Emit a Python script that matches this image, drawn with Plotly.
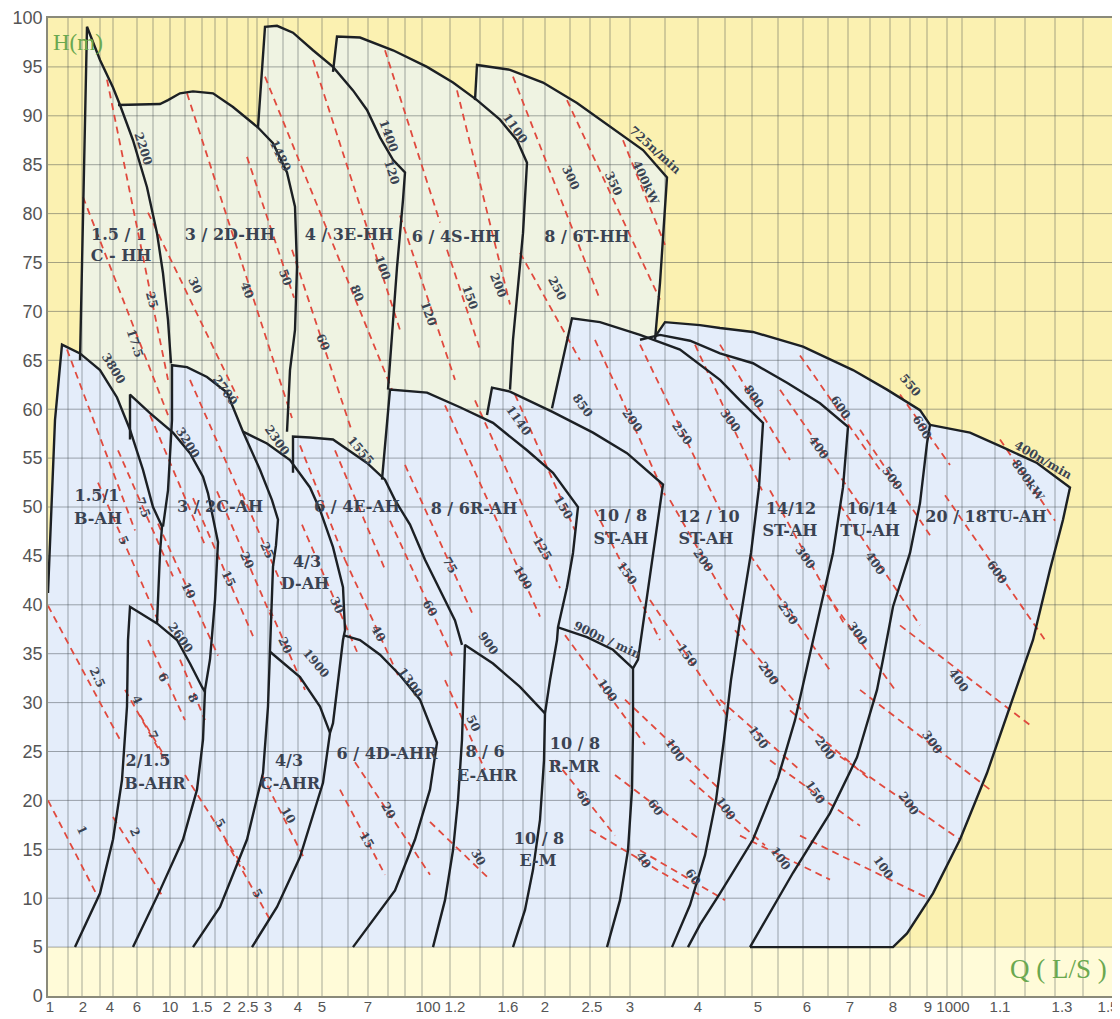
import plotly.graph_objects as go

# ---------------- axis definition (Q axis is a hand-drawn, non-uniform scale) -------------
q_tick_pos = [2, 35, 62, 89, 122, 154, 179, 200, 220, 250, 274, 320, 380, 407, 460, 497, 544, 582,
              650, 710, 759, 802, 845, 880, 905, 952, 1014, 1060]
q_tick_text = ["1", "2", "4", "6", "10", "1.5", "2", "2.5", "3", "4", "5", "7", "100", "1.2", "1.6", "2",
               "2.5", "3", "4", "5", "6", "7", "8", "9", "1000", "1.1", "1.3", "1.5"]
q_grid_pos = [20, 34, 52, 65, 89, 105, 122, 137, 154, 167, 179, 200, 209, 220, 235, 250, 274, 300, 320,
              340, 357, 374, 402, 432, 455, 475, 497, 522, 542, 562, 582, 617, 650, 677, 704, 730, 755,
              780, 800, 822, 842, 862, 879, 899, 914, 947, 977, 1007, 1035]
h_ticks = list(range(0, 101, 5))

# ---------------- pump region outlines (Q-axis position, head H in m) ----------------
hh_c_x = [32, 39, 52, 65, 72, 85, 99, 109, 115, 120, 123]
hh_c_h = [65.0, 99.1, 95.7, 92.9, 91.1, 87.5, 82.7, 78.0, 73.9, 69.1, 64.7]
hh_d_x = [70, 112, 120, 132, 145, 165, 185, 210, 225, 239, 247, 249, 247, 242, 239]
hh_d_h = [91.1, 91.2, 91.6, 92.3, 92.5, 92.3, 90.9, 88.8, 87.2, 84.2, 80.7, 74.5, 68.1, 64.0, 57.7]
hh_e_x = [210, 217, 229, 245, 265, 285, 305, 319, 332, 345, 357, 355, 349, 344, 340]
hh_e_h = [88.8, 99.1, 99.2, 98.5, 96.7, 95.0, 92.6, 90.6, 87.8, 85.5, 84.2, 81.4, 74.5, 67.8, 62.0]
hh_s_x = [285, 289, 312, 345, 379, 405, 429, 452, 469, 479, 475, 469, 465, 462]
hh_s_h = [94.5, 98.1, 98.0, 96.7, 95.0, 93.4, 91.6, 89.6, 87.5, 85.2, 78.0, 71.2, 67.1, 62.0]
hh_t_x = [427, 429, 462, 495, 529, 562, 595, 619, 615, 612, 607]
hh_t_h = [91.6, 95.2, 94.7, 93.4, 91.3, 88.9, 86.5, 83.7, 78.0, 72.9, 67.1]

ah_b_x = [0, 7, 14, 32, 52, 69, 82, 95, 105, 114, 112, 109]
ah_b_h = [41.2, 58.9, 66.6, 65.7, 64.0, 61.2, 57.9, 53.8, 50.0, 48.0, 45.3, 38.1]
ah_b2_x = [82, 82, 102, 125, 142, 155, 160, 165, 170, 167, 162, 157, 155, 149, 135, 112, 85]
ah_b2_h = [56.9, 61.5, 59.6, 57.6, 55.5, 53.1, 51.4, 48.7, 46.4, 40.5, 34.4, 31.3, 26.2, 21.1, 16.0, 10.8, 5.0]
ah_c_x = [115, 120, 124, 124, 139, 159, 179, 195, 212, 224, 230, 228, 225, 222, 220, 215, 199, 172, 145]
ah_c_h = [48.0, 51.7, 58.9, 64.5, 64.3, 63.3, 61.7, 57.7, 53.8, 50.7, 48.7, 46.1, 43.9, 35.1, 29.6, 22.8, 16.0, 9.1, 5.0]
ah_d_x = [195, 219, 242, 262, 272, 285, 295, 297, 295, 285, 282, 275, 252, 229, 204]
ah_d_h = [57.7, 56.5, 54.8, 52.0, 49.7, 45.9, 41.8, 37.4, 36.4, 27.9, 26.9, 21.8, 14.2, 9.1, 5.0]
ah_e_x = [245, 245, 262, 285, 319, 337, 347, 362, 377, 392, 407, 414]
ah_e_h = [53.5, 57.2, 57.1, 56.9, 54.5, 52.8, 50.7, 48.2, 44.6, 41.5, 38.4, 35.9]
ah_r_x = [334, 342, 379, 412, 445, 479, 505, 530, 525, 519, 510, 509, 502, 497, 496, 492, 485, 477, 465]
ah_r_h = [52.8, 62.0, 61.7, 60.2, 58.6, 55.8, 53.5, 50.0, 45.3, 41.8, 37.7, 36.4, 32.3, 28.9, 24.1, 18.0, 12.9, 8.8, 5.0]
st10_x = [439, 444, 462, 479, 505, 545, 579, 615, 605, 595, 590, 585, 585, 584, 580, 572, 559]
st10_h = [59.4, 62.2, 61.8, 61.0, 59.7, 57.6, 55.5, 52.3, 45.3, 38.4, 34.4, 33.5, 27.2, 21.1, 14.9, 9.8, 5.0]
st12_x = [504, 524, 552, 592, 632, 672, 692, 715, 711, 703, 692, 683, 676, 668, 657, 642, 624]
st12_h = [60.1, 69.3, 68.9, 67.6, 66.1, 63.0, 60.9, 58.6, 52.0, 45.3, 38.4, 32.3, 26.2, 20.0, 14.4, 9.3, 5.0]
st14_x = [592, 612, 642, 672, 705, 739, 772, 800, 795, 785, 772, 758, 747, 730, 705, 672, 652, 640]
st14_h = [67.1, 67.6, 67.0, 65.7, 64.7, 62.7, 60.6, 58.2, 52.0, 45.3, 39.5, 33.3, 28.2, 22.3, 16.0, 10.5, 7.3, 5.0]
tu16_x = [607, 617, 652, 672, 705, 755, 805, 839, 872, 882, 879, 872, 862, 845, 835, 829, 809, 782, 745, 702]
tu16_h = [67.4, 68.9, 68.6, 68.3, 67.9, 66.4, 64.0, 62.0, 59.9, 58.4, 56.5, 50.4, 45.3, 39.8, 34.4, 31.3, 24.4, 18.7, 12.6, 5.0]
tu20_x = [882, 922, 955, 989, 1022, 1015, 1002, 985, 962, 939, 912, 885, 859, 845, 702]
tu20_h = [58.4, 57.6, 56.1, 54.5, 52.0, 48.7, 43.6, 36.4, 29.6, 22.8, 16.0, 10.5, 6.4, 5.0, 5.0]

ahr_b_x = [27, 52, 65, 74, 79, 80, 82, 109, 129, 142, 154, 157]
ahr_b_h = [5.0, 10.5, 16.0, 22.1, 29.6, 36.4, 39.8, 38.1, 36.4, 34.0, 31.6, 31.1]
ahr_c_x = [222, 252, 272, 282]
ahr_c_h = [35.2, 32.6, 29.6, 26.9]
ahr_d_x = [295, 312, 332, 352, 372, 389, 382, 367, 347, 322, 305]
ahr_d_h = [36.9, 36.4, 34.9, 32.8, 30.3, 25.9, 21.1, 16.0, 10.8, 7.3, 5.0]
ahr_e_x = [385, 397, 405, 410, 414, 417, 445, 472, 497]
ahr_e_h = [5.0, 9.8, 14.9, 20.0, 26.2, 35.9, 34.0, 31.6, 28.9]
mr_x = [510, 539, 565, 585]
mr_h = [37.7, 36.7, 35.4, 33.5]

# upper envelope of the HH family and of the AH family (for the tinted areas)
hh_top_x = [32, 39, 52, 65, 72, 112, 120, 132, 145, 165, 185, 210, 217, 229, 245, 265, 285, 289, 312,
            345, 379, 405, 427, 429, 462, 495, 529, 562, 595, 619, 615, 612, 607]
hh_top_h = [65.7, 99.1, 95.7, 92.9, 91.2, 91.2, 91.6, 92.3, 92.5, 92.3, 90.9, 88.8, 99.1, 99.2, 98.5,
            96.7, 95.0, 98.1, 98.0, 96.7, 95.0, 93.4, 91.6, 95.2, 94.7, 93.4, 91.3, 88.9, 86.5, 83.7, 78.0,
            72.9, 67.1]
ah_env_x = [0, 0, 7, 14, 32, 52, 69, 82, 82, 102, 120, 124, 139, 159, 179, 195, 219, 242, 245, 262,
            285, 319, 334, 342, 379, 412, 439, 444, 462, 479, 504, 524, 552, 592, 607, 617, 652, 672, 705, 755,
            805, 839, 872, 882, 922, 955, 989, 1022, 1015, 1002, 985, 962, 939, 912, 885, 859, 845]
ah_env_h = [5, 41.2, 58.9, 66.6, 65.7, 64.0, 61.2, 57.9, 61.5, 59.6, 58.0, 64.5, 64.3, 63.3, 61.7, 57.7,
            56.5, 54.8, 57.2, 57.1, 56.9, 54.5, 53.1, 62.2, 61.7, 60.2, 58.9, 62.2, 61.8, 61.0, 59.8, 69.3,
            68.9, 67.6, 67.4, 68.9, 68.6, 68.3, 67.9, 66.4, 64.0, 62.0, 59.9, 58.4, 57.6, 56.1, 54.5, 52.0,
            48.7, 43.6, 36.4, 29.6, 22.8, 16.0, 10.5, 6.4, 5.0]

# ---------------- power (kW) iso-lines: start / end points ----------------
pw_x0 = [35, 59, 100, 139, 199, 217, 244, 265, 337, 352, 399, 409, 465, 519, 575, 472,
         19, 50, 70, 102, 110, 142, 145, 169, 194, 254, 252, 287,
         0, 65, 0, 77, 92, 100, 132, 137, 177, 214, 292, 307, 382, 397, 222,
         297, 342, 357, 397, 427, 467, 547, 592, 647, 547, 602, 517, 577, 507, 567, 542, 592, 642,
         622, 722, 792, 897, 702, 772, 687, 672, 742, 722, 692, 852, 812, 782, 752, 672, 752, 732, 812, 852, 952]
pw_h0 = [81.7, 93.7, 80.1, 92.3, 85.8, 94.0, 76.3, 95.7, 96.7, 79.8, 76.3, 92.6, 94.0, 91.6, 87.5, 76.0,
         66.1, 52.5, 55.8, 59.4, 48.3, 63.0, 50.9, 51.6, 51.4, 48.2, 56.3, 55.8,
         20.0, 18.3, 39.9, 31.3, 28.7, 36.4, 34.4, 22.6, 16.0, 22.6, 21.1, 23.9, 17.8, 32.3, 39.5,
         44.6, 48.6, 54.3, 60.4, 60.9, 61.5, 67.1, 66.6, 66.6, 49.7, 40.5, 36.9, 30.3, 24.1, 22.6, 17.0, 14.9, 22.1,
         50.7, 51.7, 50.2, 51.2, 45.1, 42.0, 37.4, 30.3, 29.2, 24.1, 16.4, 37.9, 31.3, 25.2, 16.4, 66.6, 65.5, 62.0, 57.9, 61.5, 56.9]
pw_x1 = [120, 120, 190, 244, 246, 344, 304, 352, 392, 407, 432, 462, 552, 612, 617, 532,
         87, 110, 125, 157, 170, 197, 205, 224, 234, 309, 297, 337,
         49, 114, 72, 117, 122, 137, 157, 197, 222, 257, 337, 382, 442, 437, 257,
         350, 404, 424, 492, 512, 527, 617, 672, 714, 612, 682, 597, 672, 567, 652, 652, 677, 717,
         697, 797, 872, 997, 782, 847, 762, 752, 822, 812, 782, 982, 942, 912, 880, 742, 832, 812, 882, 902, 1007]
pw_h1 = [59.4, 63.0, 61.1, 59.1, 71.4, 62.0, 57.7, 68.1, 79.1, 63.0, 66.1, 70.7, 71.2, 71.2, 76.8, 65.0,
         47.6, 38.4, 42.9, 46.1, 34.8, 50.2, 36.8, 38.6, 42.0, 35.2, 44.6, 43.6,
         10.3, 10.3, 26.2, 24.1, 23.6, 28.2, 28.2, 12.9, 7.8, 13.9, 12.4, 12.4, 11.9, 23.1, 31.3,
         32.8, 34.8, 39.2, 38.8, 41.7, 47.6, 51.2, 49.7, 51.7, 36.4, 28.2, 25.7, 21.1, 16.4, 16.0, 10.3, 9.8, 15.4,
         37.4, 37.9, 37.9, 36.4, 33.3, 31.3, 28.2, 23.1, 22.1, 17.4, 11.9, 27.7, 21.1, 16.0, 10.0, 54.8, 53.8, 50.2, 47.1, 54.3, 48.6]

# ---------------- rotated labels (speed r/min and power kW) ----------------
lab_text = ["2200", "17.5", "25", "30", "40", "50", "1480", "60", "80", "1400", "120", "100", "120", "150",
            "200", "1100", "300", "350", "400kW", "725n/min", "250",
            "3800", "3200", "2700", "2300", "1555", "5", "7.5", "10", "15", "20", "25", "30", "2600", "20",
            "1900", "1300", "1140", "150", "125", "100", "75", "60", "40", "900", "850", "200", "250", "300",
            "150", "200", "900n / min", "150", "800", "600", "550", "600", "400", "500", "400n/min", "800kW",
            "300", "400", "600", "250", "300", "200", "150", "200", "150", "100", "100", "400", "300", "200",
            "100", "1", "2", "2.5", "4", "6", "7", "8", "5", "5", "10", "15", "20", "30", "50", "100", "100",
            "60", "60", "40", "60"]
lab_x = [95, 87, 104, 147, 199, 237, 232, 275, 309, 340, 344, 334, 380, 422,
         450, 467, 522, 565, 597, 607, 509,
         65, 139, 177, 229, 312, 75, 95, 140, 180, 199, 219, 289, 132, 237,
         268, 362, 470, 515, 494, 474, 402, 382, 330, 440, 534, 584, 634, 682,
         579, 655, 559, 639, 705, 792, 862, 874, 770, 844, 995, 980,
         757, 827, 949, 740, 809, 720, 710, 777, 767, 677, 732, 910, 884, 860,
         835, 34, 87, 49, 89, 115, 105, 145, 172, 209, 240, 319, 340, 430, 425, 559, 627,
         535, 607, 595, 645]
lab_h = [86.7, 66.8, 71.2, 72.7, 72.2, 73.5, 86.0, 66.9, 71.9, 88.0, 84.3, 74.5, 69.8, 71.5,
         72.7, 88.8, 83.7, 83.1, 83.2, 86.5, 72.4,
         64.2, 56.6, 62.0, 56.9, 55.8, 46.6, 50.0, 41.5, 42.7, 44.6, 45.6, 40.0, 36.7, 35.9,
         34.1, 32.1, 58.9, 50.0, 45.8, 42.8, 44.1, 39.7, 37.1, 36.1, 60.4, 58.9, 57.6, 58.9,
         43.3, 44.6, 36.4, 34.9, 61.3, 60.2, 62.5, 58.2, 56.1, 53.0, 54.8, 52.8,
         44.9, 44.3, 43.4, 39.2, 37.1, 33.0, 26.5, 25.4, 20.9, 19.2, 14.1, 32.3, 26.0, 19.7,
         13.2, 17.0, 16.8, 32.6, 30.3, 32.6, 26.7, 30.5, 17.7, 10.5, 18.5, 16.0, 19.0, 14.2, 27.9, 31.3, 25.2,
         20.2, 19.3, 13.9, 12.2]
lab_angle = [72, 72, 75, 65, 68, 70, 65, 68, 68, 70, 72, 70, 70, 70,
             68, 55, 65, 65, 65, 42, 62,
             58, 58, 55, 55, 50, 65, 70, 65, 65, 65, 65, 65, 55, 65,
             50, 55, 55, 60, 60, 60, 60, 60, 60, 55, 55, 55, 55, 55,
             55, 55, 25, 55, 55, 55, 50, 60, 55, 55, 30, 55,
             55, 55, 55, 55, 55, 55, 55, 55, 55, 55, 55, 55, 55, 55,
             55, 65, 65, 65, 65, 65, 65, 65, 60, 60, 60, 60, 60, 60, 65, 55, 55,
             60, 55, 55, 55]

# ---------------- pump model names ----------------
name_text = ["1.5 / 1", "C - HH", "3 / 2D-HH", "4 / 3E-HH", "6 / 4S-HH", "8 / 6T-HH",
             "1.5/1", "B-AH", "3 / 2C-AH", "4/3", "D-AH", "6 / 4E-AH", "8 / 6R-AH",
             "10 / 8", "ST-AH", "12 / 10", "ST-AH", "14/12", "ST-AH", "16/14", "TU-AH", "20 / 18TU-AH",
             "2/1.5", "B-AHR", "4/3", "C-AHR", "6 / 4D-AHR", "8 / 6", "E-AHR", "10 / 8", "R-MR",
             "10 / 8", "E-M"]
name_x = [71, 73, 182, 301, 408, 539,
          49, 50, 172, 259, 257, 309, 426,
          574, 573, 661, 658, 743, 742, 824, 822, 938,
          100, 107, 241, 242, 339, 437, 439, 527, 526,
          491, 490]
name_h = [77.7, 75.6, 77.7, 77.7, 77.5, 77.5,
          51.0, 48.7, 49.9, 44.3, 42.0, 49.9, 49.7,
          49.0, 46.6, 48.9, 46.6, 49.7, 47.4, 49.7, 47.4, 48.9,
          23.9, 21.6, 23.9, 21.6, 24.6, 24.8, 22.4, 25.7, 23.3,
          16.0, 13.7]

# ---------------- figure ----------------
fig = go.Figure()

BG = "rgb(251,241,177)"
fig.add_trace(go.Scatter(x=[0, 1065, 1065, 0], y=[0, 0, 5, 5], fill="toself",
                         fillcolor="rgb(255,251,216)", line=dict(width=0),
                         mode="lines", hoverinfo="skip", showlegend=False))
# HH tint: bounded below by the top of the AH family (segment x = 32 ... 607)
hh_poly_x = hh_top_x + ah_env_x[4:35][::-1]
hh_poly_h = hh_top_h + ah_env_h[4:35][::-1]
fig.add_trace(go.Scatter(x=hh_poly_x, y=hh_poly_h, fill="toself", fillcolor="rgb(239,243,226)",
                         line=dict(width=0), mode="lines", hoverinfo="skip", showlegend=False))
fig.add_trace(go.Scatter(x=ah_env_x, y=ah_env_h, fill="toself", fillcolor="rgb(228,237,250)",
                         line=dict(width=0), mode="lines", hoverinfo="skip", showlegend=False))

# grid drawn above the tints (semi-transparent so it takes the colour of each area)
gx, gy = [], []
for g in q_grid_pos:
    gx += [g, g, None]
    gy += [0, 100, None]
for h in h_ticks[1:-1]:
    gx += [0, 1065, None]
    gy += [h, h, None]
fig.add_trace(go.Scatter(x=gx, y=gy, mode="lines", hoverinfo="skip", showlegend=False,
                         line=dict(color="rgba(60,66,72,0.45)", width=1)))

# dashed power lines
dx, dy = [], []
for a, b, c, d in zip(pw_x0, pw_h0, pw_x1, pw_h1):
    dx += [a, c, None]
    dy += [b, d, None]
fig.add_trace(go.Scatter(x=dx, y=dy, mode="lines", hoverinfo="skip", showlegend=False,
                         line=dict(color="rgb(224,74,62)", width=1.8, dash="7px,5px")))

outlines = [(hh_c_x, hh_c_h), (hh_d_x, hh_d_h), (hh_e_x, hh_e_h), (hh_s_x, hh_s_h), (hh_t_x, hh_t_h),
            (ah_b_x, ah_b_h), (ah_b2_x, ah_b2_h), (ah_c_x, ah_c_h), (ah_d_x, ah_d_h), (ah_e_x, ah_e_h),
            (ah_r_x, ah_r_h), (st10_x, st10_h), (st12_x, st12_h), (st14_x, st14_h), (tu16_x, tu16_h),
            (tu20_x, tu20_h), (ahr_b_x, ahr_b_h), (ahr_c_x, ahr_c_h), (ahr_d_x, ahr_d_h),
            (ahr_e_x, ahr_e_h), (mr_x, mr_h)]
for xs, hs in outlines:
    fig.add_trace(go.Scatter(x=xs, y=hs, mode="lines", hoverinfo="skip", showlegend=False,
                             line=dict(color="#1c2024", width=2.4)))

fig.add_trace(go.Scatter(x=name_x, y=name_h, text=["<b>%s</b>" % t for t in name_text], mode="text",
                         textfont=dict(family="DejaVu Serif", size=16, color="#3a4352"),
                         hoverinfo="skip", showlegend=False))

for t, x, h, ang in zip(lab_text, lab_x, lab_h, lab_angle):
    fig.add_annotation(x=x, y=h, xref="x", yref="y", text="<b>%s</b>" % t, textangle=ang,
                       showarrow=False, font=dict(family="DejaVu Serif", size=12, color="#3a4352"))

fig.add_annotation(x=30, y=97.5, xref="x", yref="y", text="H(m)", showarrow=False,
                   font=dict(family="Liberation Serif", size=23, color="#6aa84f"))
fig.add_annotation(x=1010, y=2.8, xref="x", yref="y", text="Q ( L/S )", showarrow=False,
                   font=dict(family="Liberation Serif", size=27, color="#6aa84f"))

# the page body adds an 8 px offset, so the figure is 8 px smaller and margins are shifted
fig.update_layout(
    width=1112, height=1011,
    margin=dict(l=40, r=7, t=10, b=23),
    paper_bgcolor="white", plot_bgcolor=BG,
    showlegend=False,
    xaxis=dict(range=[0, 1065], tickmode="array", tickvals=q_tick_pos, ticktext=q_tick_text,
               showgrid=False, zeroline=False, ticks="", showline=True, mirror=True, automargin=False,
               linecolor="#8a8a7a", linewidth=1.5, ticklabelstandoff=-4,
               tickfont=dict(family="Liberation Sans", size=15, color="#555")),
    yaxis=dict(range=[0, 100], tickmode="array", tickvals=h_ticks, ticktext=[str(v) for v in h_ticks],
               showgrid=False, zeroline=False,
               ticks="", showline=True, mirror=True, linecolor="#8a8a7a", linewidth=1.5, automargin=False,
               tickfont=dict(family="Liberation Sans", size=18, color="#555")),
)

fig.write_html("out.html")
